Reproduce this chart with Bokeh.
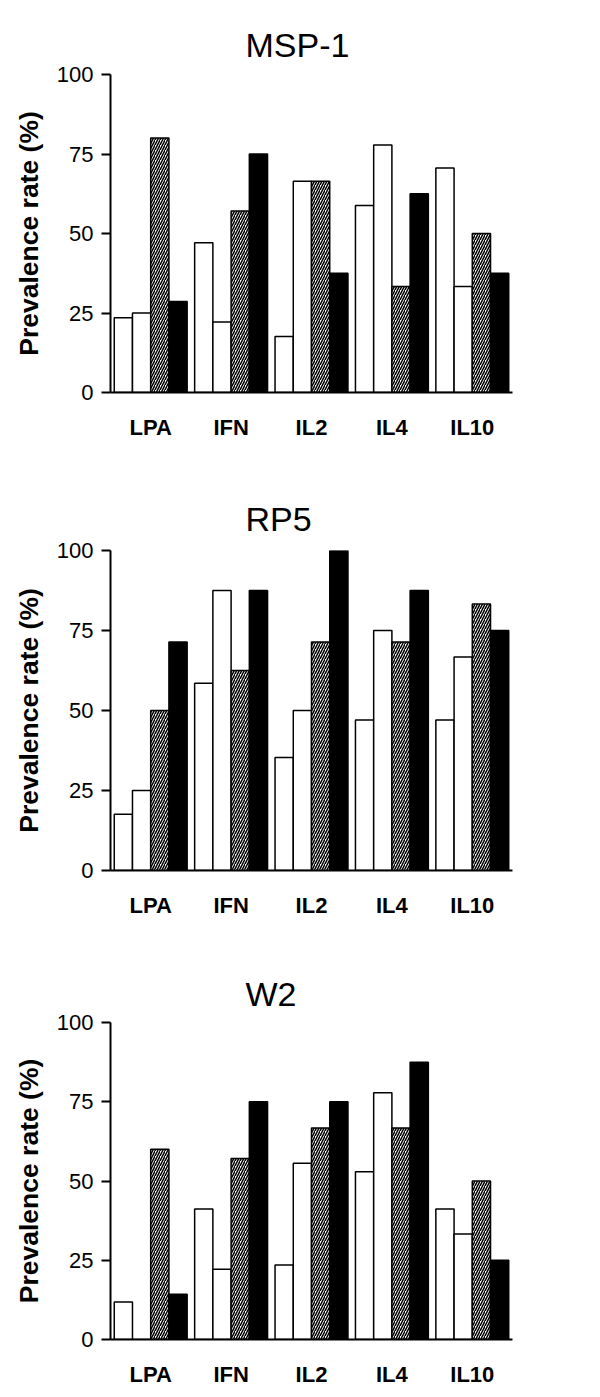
from bokeh.plotting import figure
from bokeh.models import FactorRange, Range1d, FixedTicker, Title, ColumnDataSource
from bokeh.transform import dodge
from bokeh.layouts import column
from bokeh.embed import file_html
from bokeh.resources import INLINE

cytokines = ["LPA", "IFN", "IL2", "IL4", "IL10"]
y_ticks = [0, 25, 50, 75, 100]
panel_titles = ["MSP-1", "RP5", "W2"]

# four series per panel: open, open, hatched, solid
msp1_s1 = [23.5, 47.1, 17.6, 58.8, 70.6]
msp1_s2 = [25.0, 22.2, 66.4, 77.8, 33.3]
msp1_s3 = [80.0, 57.1, 66.4, 33.3, 50.0]
msp1_s4 = [28.6, 75.0, 37.5, 62.5, 37.5]

rp5_s1 = [17.6, 58.5, 35.3, 47.0, 47.0]
rp5_s2 = [25.0, 87.5, 50.0, 75.0, 66.7]
rp5_s3 = [50.0, 62.5, 71.4, 71.4, 83.3]
rp5_s4 = [71.4, 87.5, 100.0, 87.5, 75.0]

w2_s1 = [11.8, 41.2, 23.5, 52.9, 41.2]
w2_s2 = [0.0, 22.2, 55.6, 77.8, 33.3]
w2_s3 = [60.0, 57.1, 66.7, 66.7, 50.0]
w2_s4 = [14.3, 75.0, 75.0, 87.5, 25.0]

# (title, series, height, border top, border bottom, title standoff)
panels = [
    (panel_titles[0], [msp1_s1, msp1_s2, msp1_s3, msp1_s4], 484, 74, 92, 21),
    (panel_titles[1], [rp5_s1, rp5_s2, rp5_s3, rp5_s4], 472, 66, 86, 26),
    (panel_titles[2], [w2_s1, w2_s2, w2_s3, w2_s4], 441, 66, 58, 20),
]

offsets = [-0.34, -0.1133, 0.1133, 0.34]
bar_w = 0.2267
styles = [
    dict(fill_color="white"),
    dict(fill_color="white"),
    dict(fill_color="white", hatch_pattern="/", hatch_color="black",
         hatch_scale=5, hatch_weight=1.5),
    dict(fill_color="black"),
]

FONT = "Liberation Sans"


def make_panel(title, series, height, bt, bb, ts):
    p = figure(x_range=FactorRange(*cytokines, range_padding=0),
               y_range=Range1d(0, 100), width=600, height=height,
               output_backend="svg", toolbar_location=None,
               min_border_left=110, min_border_right=88,
               min_border_top=bt, min_border_bottom=bb)
    p.title = Title(text=title, align="left", offset=135, standoff=ts,
                    text_font_size="34px", text_font=FONT,
                    text_font_style="normal", text_color="black")
    p.outline_line_color = None
    p.xgrid.grid_line_color = None
    p.ygrid.grid_line_color = None
    data = {"cat": cytokines}
    for i, s in enumerate(series):
        data["s%d" % i] = s
    src = ColumnDataSource(data)
    for i in range(4):
        p.vbar(x=dodge("cat", offsets[i], range=p.x_range), top="s%d" % i,
               bottom=0, width=bar_w, source=src, line_color="black",
               line_width=1.5, **styles[i])

    ya = p.yaxis[0]
    ya.ticker = FixedTicker(ticks=y_ticks)
    ya.axis_label = "Prevalence rate (%)"
    ya.axis_label_text_font = FONT
    ya.axis_label_text_font_size = "26.5px"
    ya.axis_label_text_font_style = "bold"
    ya.axis_label_text_color = "black"
    ya.axis_label_standoff = 10
    ya.major_label_text_font = FONT
    ya.major_label_text_font_size = "22px"
    ya.major_label_text_color = "black"
    ya.major_label_standoff = 8
    ya.major_tick_out = 9
    ya.major_tick_in = 0
    ya.minor_tick_out = 0
    ya.minor_tick_in = 0
    ya.axis_line_width = 2
    ya.major_tick_line_width = 2

    xa = p.xaxis[0]
    xa.major_tick_out = 0
    xa.major_tick_in = 0
    xa.minor_tick_out = 0
    xa.axis_line_width = 2
    xa.major_label_text_font = FONT
    xa.major_label_text_font_size = "22px"
    xa.major_label_text_font_style = "bold"
    xa.major_label_text_color = "black"
    xa.major_label_standoff = 22
    return p


figs = [make_panel(*pnl) for pnl in panels]
layout = column(*figs)
open("out.html", "w").write(file_html(layout, INLINE))
